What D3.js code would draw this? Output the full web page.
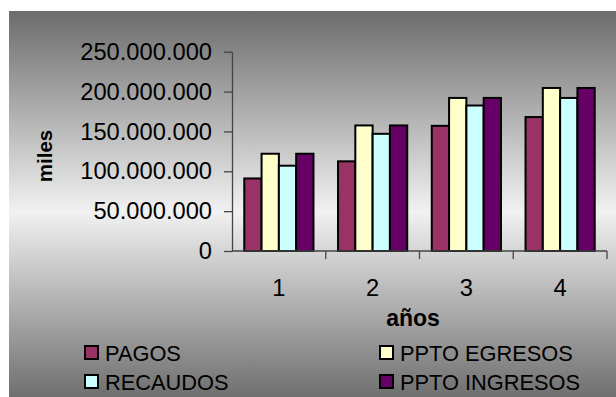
<!DOCTYPE html>
<html>
<head>
<meta charset="utf-8">
<script src="https://cdn.jsdelivr.net/npm/d3@7"></script>
<style>
  html, body { margin: 0; padding: 0; background: #fff; }
  svg { display: block; font-family: "Liberation Sans", Arial, sans-serif; }
</style>
</head>
<body>
<svg id="chart" width="616" height="397"></svg>
<script>
// Years on the category axis
const years = ["1", "2", "3", "4"];
// Series names and fill colours
const seriesNames = ["PAGOS", "PPTO EGRESOS", "RECAUDOS", "PPTO INGRESOS"];
const seriesColors = ["#993366", "#FFFFCC", "#CCFFFF", "#660066"];
// Values per series, in thousands (miles)
const pagos        = [91000000, 112500000, 157000000, 168000000];
const pptoEgresos  = [122000000, 157500000, 192000000, 204500000];
const recaudos     = [107000000, 147000000, 182500000, 192000000];
const pptoIngresos = [122000000, 157500000, 192000000, 204500000];
// Value axis ticks
const yTicks = [0, 50000000, 100000000, 150000000, 200000000, 250000000];

const seriesValues = [pagos, pptoEgresos, recaudos, pptoIngresos];

const svg = d3.select("#chart");

// Background panel with vertical grey gradient
const defs = svg.append("defs");
const grad = defs.append("linearGradient")
  .attr("id", "bg").attr("x1", 0).attr("y1", 0).attr("x2", 0).attr("y2", 1);
grad.append("stop").attr("offset", "0").attr("stop-color", "#6c6c6c");
grad.append("stop").attr("offset", "0.52").attr("stop-color", "#f1f1f1");
grad.append("stop").attr("offset", "1").attr("stop-color", "#6f6f6f");

svg.append("rect")
  .attr("x", 9).attr("y", 11).attr("width", 607).attr("height", 386)
  .attr("fill", "url(#bg)");

// Plot area
const plot = { left: 232, right: 607, top: 51.7, bottom: 251 };

const y = d3.scaleLinear()
  .domain([0, 250000000])
  .range([plot.bottom, plot.top]);

const x0 = d3.scaleBand()
  .domain(years)
  .range([plot.left, plot.right])
  .paddingInner(0).paddingOuter(0);

const x1 = d3.scaleBand()
  .domain(seriesNames)
  .range([0, x0.bandwidth()])
  .paddingInner(0).paddingOuter(0.71);

// Bars
const groups = svg.append("g").selectAll("g")
  .data(years)
  .join("g")
  .attr("transform", d => `translate(${x0(d)},0)`);

groups.selectAll("rect")
  .data((d, i) => seriesNames.map((s, k) => ({ s, k, v: seriesValues[k][i] })))
  .join("rect")
  .attr("x", d => x1(d.s))
  .attr("y", d => y(d.v))
  .attr("width", x1.bandwidth())
  .attr("height", d => y(0) - y(d.v))
  .attr("fill", d => seriesColors[d.k])
  .attr("stroke", "#000")
  .attr("stroke-width", 2);

// Value axis
const fmt = d3.formatLocale({ decimal: ",", thousands: ".", grouping: [3], currency: ["$", ""] }).format(",d");
const yAxis = svg.append("g")
  .attr("transform", `translate(${plot.left},0)`)
  .call(d3.axisLeft(y).tickValues(yTicks).tickFormat(fmt).tickSize(8).tickSizeOuter(0).tickPadding(12));
yAxis.select(".domain").attr("stroke", "#444").attr("stroke-width", 1.3);
yAxis.selectAll(".tick line").attr("stroke", "#444").attr("stroke-width", 1.3);
yAxis.selectAll(".tick text")
  .attr("font-size", 23.7).attr("fill", "#000")
  .attr("font-family", "Liberation Sans, Arial, sans-serif");

// Category axis with ticks between categories
const xAxisG = svg.append("g").attr("transform", `translate(0,${plot.bottom})`);
xAxisG.append("line")
  .attr("x1", plot.left).attr("x2", plot.right)
  .attr("stroke", "#444").attr("stroke-width", 1.3);
xAxisG.selectAll("line.sep")
  .data(years)
  .join("line").attr("class", "sep")
  .attr("x1", d => x0(d) + x0.bandwidth()).attr("x2", d => x0(d) + x0.bandwidth())
  .attr("y1", 0).attr("y2", 8)
  .attr("stroke", "#444").attr("stroke-width", 1.3);
xAxisG.selectAll("text")
  .data(years)
  .join("text")
  .attr("x", d => x0(d) + x0.bandwidth() / 2)
  .attr("y", 45)
  .attr("text-anchor", "middle")
  .attr("font-size", 23.7)
  .text(d => d);

// Axis titles
svg.append("text")
  .attr("transform", "translate(51.5,156) rotate(-90)")
  .attr("text-anchor", "middle")
  .attr("font-size", 20.5).attr("font-weight", "bold")
  .text("miles");

svg.append("text")
  .attr("x", 413).attr("y", 326)
  .attr("text-anchor", "middle")
  .attr("font-size", 23).attr("font-weight", "bold")
  .text("años");

// Legend (two columns, two rows)
const legendPos = [
  { x: 85, y: 346 }, { x: 380, y: 346 },
  { x: 85, y: 375 }, { x: 380, y: 375 }
];
const legend = svg.append("g").selectAll("g")
  .data(seriesNames)
  .join("g")
  .attr("transform", (d, i) => `translate(${legendPos[i].x},${legendPos[i].y})`);
legend.append("rect")
  .attr("width", 13).attr("height", 13)
  .attr("fill", (d, i) => seriesColors[i])
  .attr("stroke", "#000").attr("stroke-width", 2);
legend.append("text")
  .attr("x", 20).attr("y", 14.5)
  .attr("font-size", 21.8)
  .text(d => d);
</script>
</body>
</html>
